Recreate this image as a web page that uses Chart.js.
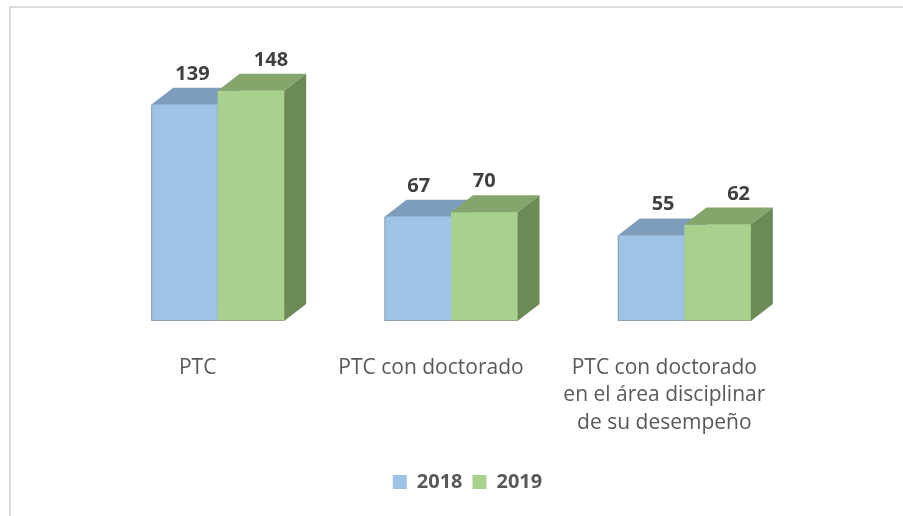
<!DOCTYPE html>
<html>
<head>
<meta charset="utf-8">
<script src="https://cdn.jsdelivr.net/npm/chart.js@4.4.0/dist/chart.umd.min.js"></script>
<style>
html,body{margin:0;padding:0;background:#fff;}
#wrap{width:903px;height:516px;position:relative;}
</style>
</head>
<body>
<div id="wrap"><canvas id="c" width="903" height="516"></canvas></div>
<script>
const categories = [
  'PTC',
  'PTC con doctorado',
  ['PTC con doctorado', 'en el área disciplinar', 'de su desempeño']
];
const seriesNames = ['2018', '2019'];
const values2018 = [139, 67, 55];
const values2019 = [148, 70, 62];
const yMin = 0;
const yMax = 200;

const DX = 22, DY = -17;
const styles = [
  {front: '#9DC3E6', top: '#7E9CBC', side: '#6F8BAA', labelDx: [8, 1, 12]},
  {front: '#A9D18E', top: '#84A66C', side: '#6B8A56', labelDx: [20, 0, 21]}
];
const edgeColor = 'rgba(140,140,140,0.6)';

function barBox(bar) {
  const p = bar.getProps(['x', 'y', 'base', 'width'], true);
  return {l: p.x - p.width / 2, r: p.x + p.width / 2, t: p.y, b: p.base, x: p.x};
}

const frame3d = {
  id: 'frame3d',
  beforeDraw(chart) {
    const ctx = chart.ctx;
    ctx.save();
    ctx.fillStyle = '#ffffff';
    ctx.fillRect(0, 0, chart.width, chart.height);
    ctx.strokeStyle = '#dcdcdc';
    ctx.lineWidth = 2;
    ctx.beginPath();
    ctx.moveTo(10, chart.height);
    ctx.lineTo(10, 7);
    ctx.lineTo(chart.width, 7);
    ctx.stroke();
    ctx.restore();
  },
  afterDatasetsDraw(chart) {
    const ctx = chart.ctx;
    ctx.save();
    const n = chart.data.labels.length;
    const metas = chart.data.datasets.map((d, i) => chart.getDatasetMeta(i));
    for (let i = 0; i < n; i++) {
      metas.forEach((meta, di) => {
        const st = styles[di];
        const k = barBox(meta.data[i]);
        ctx.fillStyle = st.front;
        ctx.fillRect(k.l, k.t, k.r - k.l, k.b - k.t);
        ctx.strokeStyle = edgeColor;
        ctx.lineWidth = 1;
        ctx.beginPath();
        if (di === 0) { ctx.moveTo(k.l + 0.5, k.t); ctx.lineTo(k.l + 0.5, k.b - 0.5); }
        else { ctx.moveTo(k.l, k.b - 0.5); }
        ctx.lineTo(k.r, k.b - 0.5);
        ctx.stroke();
        ctx.fillStyle = st.top;
        ctx.beginPath();
        ctx.moveTo(k.l, k.t);
        ctx.lineTo(k.l + DX, k.t + DY);
        ctx.lineTo(k.r + DX, k.t + DY);
        ctx.lineTo(k.r, k.t);
        ctx.closePath();
        ctx.fill();
        ctx.fillStyle = st.side;
        ctx.beginPath();
        ctx.moveTo(k.r, k.t);
        ctx.lineTo(k.r + DX, k.t + DY);
        ctx.lineTo(k.r + DX, k.b + DY);
        ctx.lineTo(k.r, k.b);
        ctx.closePath();
        ctx.fill();
      });
    }
    ctx.font = 'bold 20px "Open Sans"';
    ctx.fillStyle = '#404040';
    ctx.textAlign = 'center';
    ctx.textBaseline = 'alphabetic';
    chart.data.datasets.forEach((ds, di) => {
      metas[di].data.forEach((bar, i) => {
        const p = bar.getProps(['x', 'y'], true);
        ctx.fillText(String(ds.data[i]), p.x + styles[di].labelDx[i], p.y - 25);
      });
    });
    ctx.restore();
  }
};

new Chart(document.getElementById('c'), {
  type: 'bar',
  data: {
    labels: categories,
    datasets: [
      {label: seriesNames[0], data: values2018, backgroundColor: styles[0].front, borderWidth: 0, yAxisID: 'y'},
      {label: seriesNames[1], data: values2019, backgroundColor: styles[1].front, borderWidth: 0, yAxisID: 'y'}
    ]
  },
  options: {
    responsive: false,
    animation: false,
    devicePixelRatio: 1,
    layout: {padding: {left: 32, right: 0, top: 10, bottom: 14}},
    categoryPercentage: 0.57,
    barPercentage: 1.0,
    scales: {
      x: {
        grid: {display: false, drawTicks: false},
        border: {display: false},
        ticks: {
          color: '#595959',
          font: {family: '"Open Sans"', size: 21, lineHeight: 1.31},
          padding: 33,
          labelOffset: -20,
          maxRotation: 0,
          autoSkip: false
        },
        afterFit(s) { s.height = 141; }
      },
      y: {
        min: yMin, max: yMax,
        position: 'left',
        grid: {display: false, drawTicks: false},
        border: {display: false},
        ticks: {display: false},
        afterFit(s) { s.width = 69; }
      },
      y2: {
        display: true,
        position: 'right',
        grid: {display: false, drawTicks: false},
        border: {display: false},
        ticks: {display: false},
        afterFit(s) { s.width = 102; }
      }
    },
    plugins: {
      tooltip: {enabled: false},
      legend: {
        position: 'bottom',
        labels: {
          boxWidth: 14, boxHeight: 14, padding: 10,
          color: '#595959',
          font: {family: '"Open Sans"', size: 20, weight: 'bold'}
        }
      }
    }
  },
  plugins: [frame3d]
});
</script>
</body>
</html>
